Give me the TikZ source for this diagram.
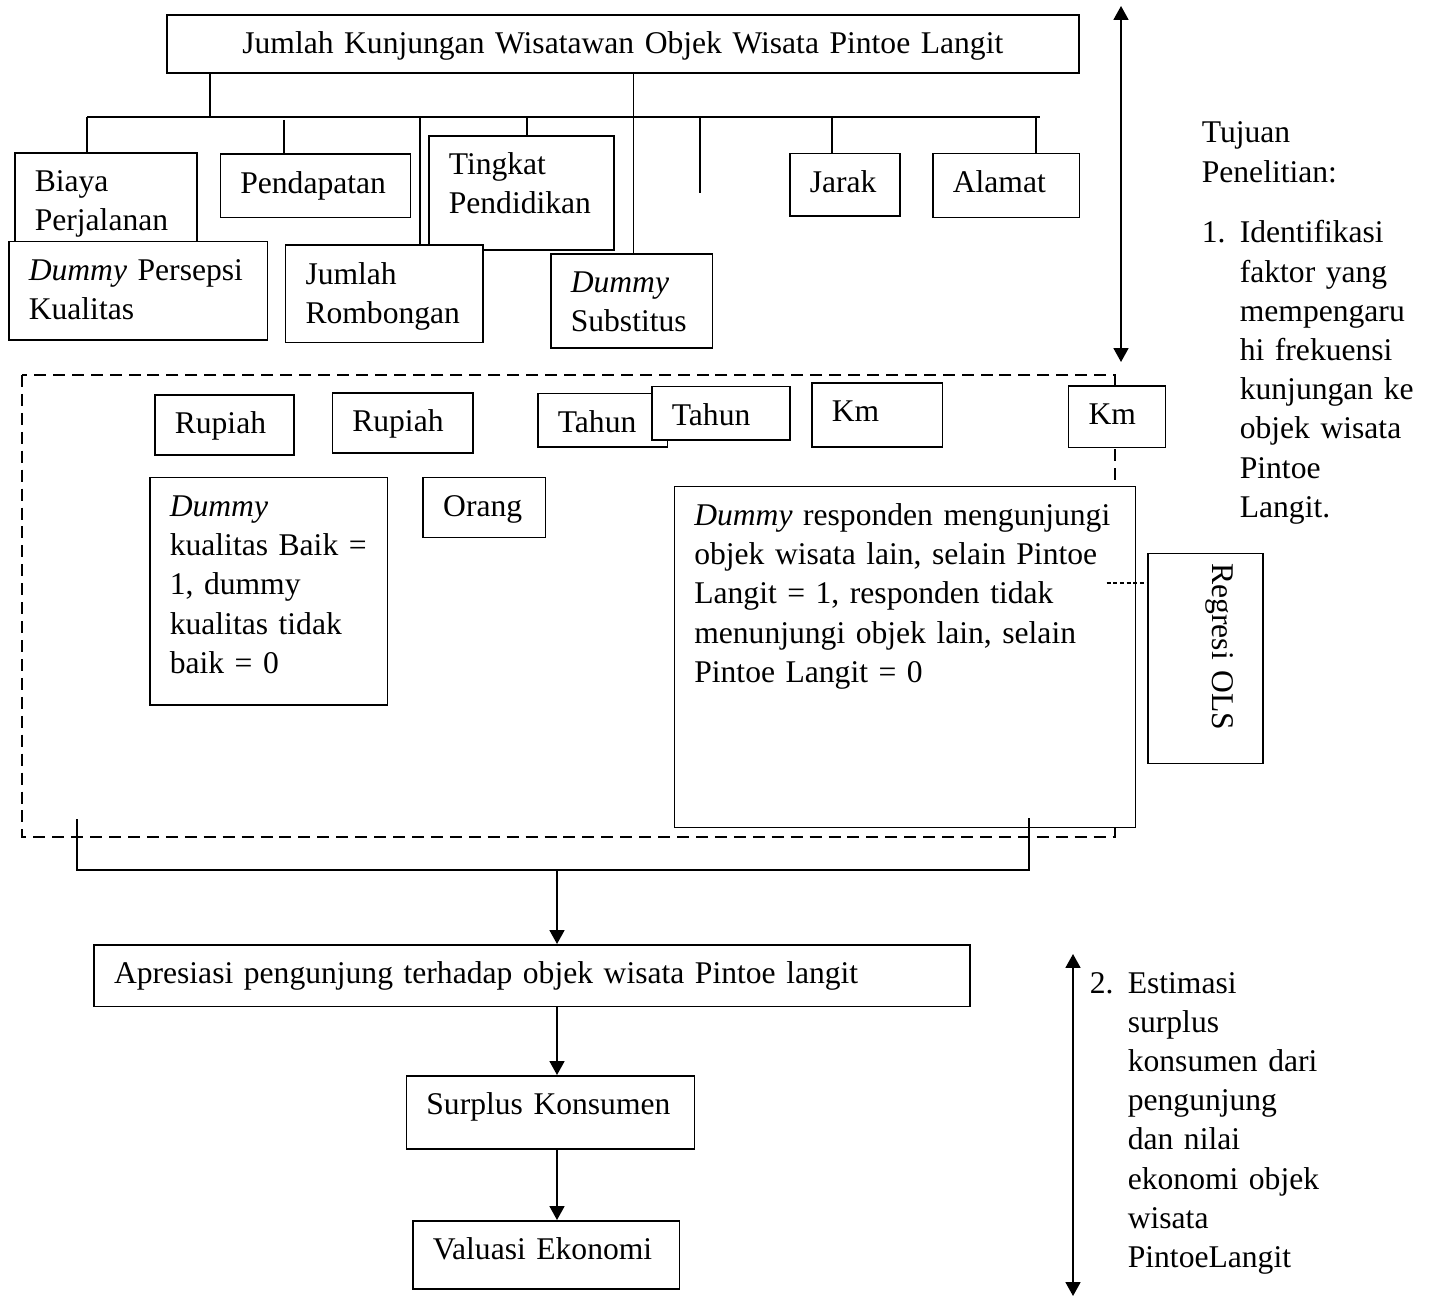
\documentclass[tikz,border=0pt]{standalone}
\usepackage{fontspec}
\setmainfont{Liberation Serif}
\usetikzlibrary{arrows.meta}

\begin{document}
\begin{tikzpicture}[
    x=0.375pt, y=-0.375pt,
    line width=0.6pt,
    >={Triangle[length=5.2pt, width=5.6pt]},
    varbox/.style={
        rectangle,
        draw=black, fill=white,
        anchor=north west,
        inner xsep=7.5pt, inner ysep=0pt,
        text height=14.6pt,
        align=left,
        font={\fontsize{11.85}{14.7}\selectfont\hyphenpenalty=10000\relax}
    },
    note/.style={
        anchor=base west, inner sep=0pt,
        align=left,
        font={\fontsize{11.85}{14.7}\selectfont}
    },
    groupframe/.style={
        draw=black, line width=1pt,
        dash pattern=on 4.5pt off 2.6pt
    },
    linkdash/.style={
        line width=0.4pt,
        dash pattern=on 1.5pt off 1pt
    }
]
\useasboundingbox (0,0) rectangle (1429,1296);

\draw[groupframe] (22,375) rectangle (1115,837);

\node[varbox, text width=327pt, text depth=7.15pt, align=center] (judul) at (166,14) {Jumlah Kunjungan Wisatawan Objek Wisata Pintoe Langit};

\node[varbox, text width=53.3pt, text depth=25.2pt] (biaya) at (14,152) {Biaya\\Perjalanan};
\node[varbox, text width=56.3pt, text depth=9.2pt] (pendapatan) at (219.5,153.3) {Pendapatan};
\node[varbox, text width=54.4pt, text depth=28.2pt] (tingkat) at (428,135) {Tingkat\\Pendidikan};
\node[varbox, text width=26.3pt, text depth=8.8pt] (jarak) at (789,152.7) {Jarak};
\node[varbox, text width=40pt, text depth=9.4pt] (alamat) at (932,152.7) {Alamat};
\node[varbox, text width=82pt, text depth=22.3pt] (persepsi) at (8,240.7) {\textit{Dummy} Persepsi\\Kualitas};
\node[varbox, text width=59pt, text depth=22pt] (rombongan) at (284.7,244.3) {Jumlah\\Rombongan};
\node[varbox, text width=45.6pt, text depth=20.7pt] (substitusi) at (550,253) {\textit{Dummy}\\Substitus};

\node[varbox, text width=37.1pt, text depth=7.9pt] (rp1) at (154,394) {Rupiah};
\node[varbox, text width=37.7pt, text depth=7.9pt] (rp2) at (331.5,392) {Rupiah};
\node[varbox, text width=33.6pt, text depth=5.4pt] (th1) at (537,392.7) {Tahun};
\node[varbox, text width=36.8pt, text depth=5.4pt] (th2) at (651,385.7) {Tahun};
\node[varbox, text width=34pt, text depth=9.4pt] (km1) at (811,382) {Km};
\node[varbox, text width=21.3pt, text depth=8.5pt] (km2) at (1067.8,385) {Km};
\node[varbox, text width=74.2pt, text depth=70.6pt] (kualitas) at (149,476.7) {\textit{Dummy}\\kualitas Baik =\\1, dummy\\kualitas tidak\\baik = 0};
\node[varbox, text width=30.8pt, text depth=7.9pt] (orang) at (422.4,476.7) {Orang};
\node[varbox, text width=158pt, text depth=113.3pt] (responden) at (673.5,485.7) {\textit{Dummy} responden mengunjungi\\objek wisata lain, selain Pintoe\\Langit = 1, responden tidak\\menunjungi objek lain, selain\\Pintoe Langit = 0};
\node[varbox, rotate=-90, text width=71.3pt, inner xsep=3.75pt, text height=19pt, text depth=24pt] (ols) at (1263.7,552.7) {Regresi OLS};

\node[varbox, text width=313.4pt, text depth=8.5pt] (apresiasi) at (93.2,944) {Apresiasi pengunjung terhadap objek wisata Pintoe langit};
\node[varbox, text width=93pt, text depth=12.8pt] (surplus) at (405.6,1075) {Surplus Konsumen};
\node[varbox, text width=85pt, text depth=10.9pt] (valuasi) at (412,1220) {Valuasi Ekonomi};

\node[note, text width=60pt] (tujuan) at (1201,143) {Tujuan\\Penelitian:};
\node[note] (no1) at (1201,243) {1.};
\node[note, text width=68pt] (tujuan1) at (1239,243) {Identifikasi\\faktor yang\\mempengaru\\hi frekuensi\\kunjungan ke\\objek wisata\\Pintoe\\Langit.};
\node[note] (no2) at (1089,993) {2.};
\node[note, text width=80pt] (tujuan2) at (1127,993) {Estimasi\\surplus\\konsumen dari\\pengunjung\\dan nilai\\ekonomi objek\\wisata\\PintoeLangit};

\coordinate (busL) at (87,117);
\coordinate (busR) at (1040,117);
\coordinate (ujung) at (700,193);
\draw (judul.south -| 210,0) -- (210,117);
\draw (busL) -- (busR);
\draw (busL) -- (busL |- biaya.north);
\draw (284,120) -- (284,0 |- pendapatan.north);
\draw (420,117) -- (420,0 |- rombongan.north);
\draw (527,117) -- (527,0 |- tingkat.north);
\draw (judul.south -| 633.6,0) -- (633.6,0 |- substitusi.north);
\draw (700,117) -- (ujung);
\draw (832,117) -- (832,0 |- jarak.north);
\draw (1036,117) -- (1036,0 |- alamat.north);

\coordinate (olsL) at (1106.5,583);
\draw[linkdash] (olsL) -- (olsL -| ols.south);

\coordinate (kiri) at (77,819);
\coordinate (kanan) at (1029,818);
\coordinate (tengah) at (557,870);
\draw (kiri) |- (tengah) -| (kanan);
\draw[->] (tengah) -- (tengah |- apresiasi.north);
\draw[->] (tengah |- apresiasi.south) -- (tengah |- surplus.north);
\draw[->] (tengah |- surplus.south) -- (tengah |- valuasi.north);

\coordinate (t1a) at (1121,6);
\coordinate (t1b) at (1121,362);
\draw[<->] (t1a) -- (t1b);
\coordinate (t2a) at (1073,954);
\coordinate (t2b) at (1073,1296);
\draw[<->] (t2a) -- (t2b);

\end{tikzpicture}
\end{document}
